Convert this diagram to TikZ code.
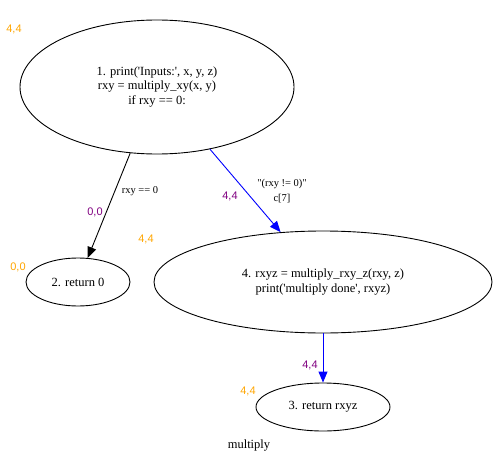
\documentclass[tikz,border=0pt]{standalone}
\usepackage{fontspec}
\setmainfont{Liberation Serif}
\newfontfamily\coordfont{Liberation Sans}
\usetikzlibrary{arrows.meta,shapes.geometric}
\definecolor{gvorange}{RGB}{255,165,0}
\definecolor{gvpurple}{RGB}{128,0,128}

\begin{document}
\begin{tikzpicture}
[x=1pt,y=-1pt,>={Triangle[length=11pt,width=9pt]},line width=0.9pt,
 stmt/.style={shape=ellipse,draw,inner sep=0pt,align=center,font=\fontsize{12.5}{14.5}\selectfont},
 elabel/.style={align=center,font=\fontsize{10.5}{14.5}\selectfont},
 nodepos/.style={text=gvorange,font=\coordfont\fontsize{11}{13}\selectfont},
 edgepos/.style={text=gvpurple,font=\coordfont\fontsize{11}{13}\selectfont}]
\useasboundingbox (0,0) rectangle (498,463);

\node[stmt,minimum width=274pt,minimum height=134pt] (inputs) at (157, 87)
{1. print(\textquotesingle Inputs:\textquotesingle, x, y, z)\\ rxy = multiply\_xy(x, y)\\ if rxy == 0:};
\node[stmt,minimum width=104pt,minimum height=48pt] (retzero) at (78, 282) {2. return 0};
\node[stmt,minimum width=338pt,minimum height=102pt] (mulxyz) at (323, 282)
{4. rxyz = multiply\_rxy\_z(rxy, z)\\ print(\textquotesingle multiply done\textquotesingle, rxyz)};
\node[stmt,minimum width=134pt,minimum height=48pt] (retxyz) at (323, 407) {3. return rxyz};

\node[nodepos] (posinputs) at (14, 29) {4,4};
\node[nodepos] (posretzero) at (18, 267) {0,0};
\node[nodepos] (posmulxyz) at (146, 239) {4,4};
\node[nodepos] (posretxyz) at (248, 391) {4,4};

\draw[->] (inputs) -- (retzero);
\draw[->,blue] (inputs) -- (mulxyz);
\draw[->,blue] (mulxyz) -- (retxyz);

\node[elabel] (lblzero) at (140, 191) {rxy == 0};
\node[elabel] (lblnonzero) at (282, 191) {\textquotedbl(rxy != 0)\textquotedbl\\ c[7]};
\node[edgepos] (epzero) at (95, 212) {0,0};
\node[edgepos] (epnonzero) at (230, 196) {4,4};
\node[edgepos] (epdone) at (310, 365) {4,4};

\node[font=\fontsize{12.5}{14.5}\selectfont] (fname) at (249, 446) {multiply};
\end{tikzpicture}
\end{document}
